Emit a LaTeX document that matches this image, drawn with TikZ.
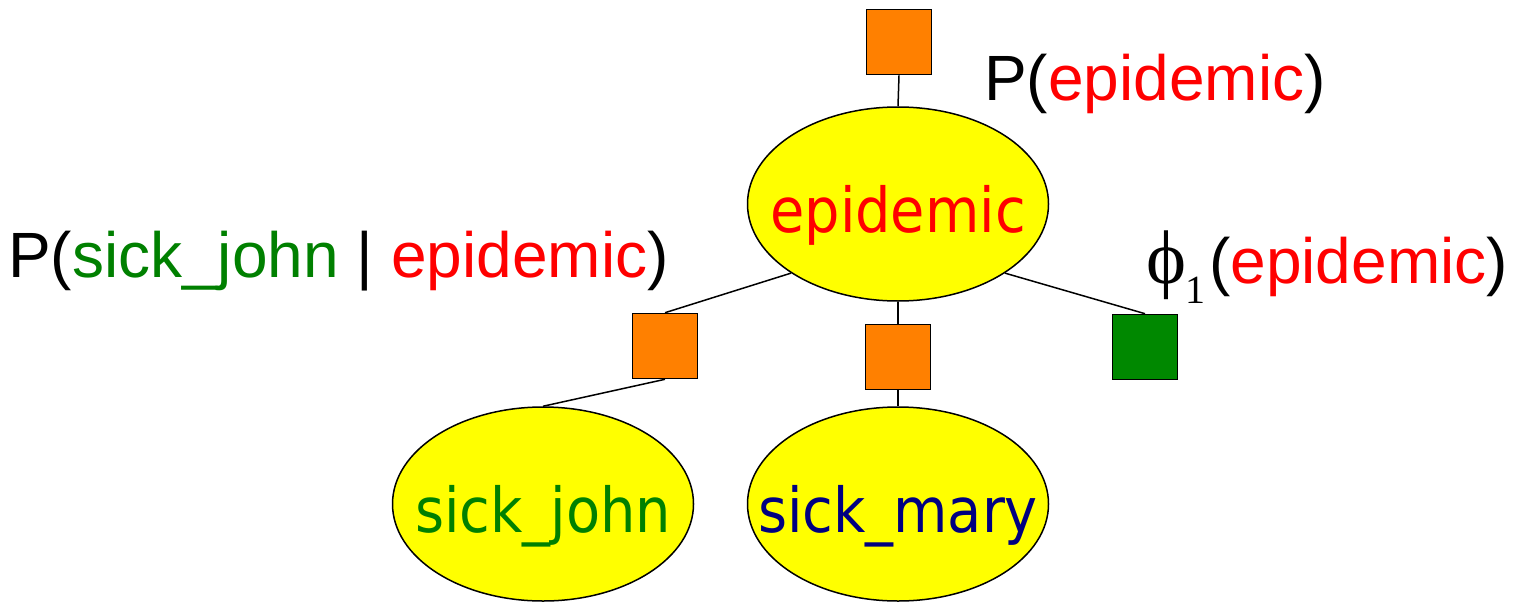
\documentclass[tikz,border=0pt]{standalone}
\usepackage{fontspec}
\setmainfont{Liberation Sans}
\newfontfamily\greekserif{Liberation Serif}
\newfontfamily\nodefont{DejaVu Sans Condensed}
\usetikzlibrary{shapes.geometric}
\definecolor{nodeyellow}{RGB}{255,255,0}
\definecolor{factororange}{RGB}{255,128,0}
\definecolor{factorgreen}{RGB}{0,136,0}
\definecolor{txtred}{RGB}{255,0,0}
\definecolor{txtgreen}{RGB}{0,128,0}
\definecolor{txtblue}{RGB}{0,0,128}
% text inside an ellipse takes no room, so the ellipse keeps its set size;
% its baseline sits 28pt below the centre
\newcommand{\inlabel}[1]{\smash{\raisebox{-28pt}{\makebox[0pt]{#1}}}}
\tikzset{
  varnode/.style={ellipse, draw=black, line width=1.5pt, fill=nodeyellow,
    minimum width=301pt, minimum height=194pt, inner sep=0pt,
    font=\nodefont\fontsize{62}{62}\selectfont},
  factor/.style={rectangle, draw=black, line width=1.6pt, fill=factororange,
    minimum size=65pt, inner sep=0pt},
  link/.style={draw=black, line width=1.5pt},
  lbl/.style={anchor=base west, inner sep=0pt, font=\fontsize{64}{64}\selectfont}
}
\begin{document}
\begin{tikzpicture}[x=1pt, y=-1pt]
  \useasboundingbox (0,0) rectangle (1514,602);

  % variable nodes
  \node[varnode] (epi) at (898,204) {\inlabel{\textcolor{txtred}{epidemic}}};
  \node[varnode] (john) at (543,504) {\inlabel{\textcolor{txtgreen}{sick\_john}}};
  \node[varnode] (mary) at (898,504) {\inlabel{\textcolor{txtblue}{sick\_mary}}};

  % factor nodes
  \node[factor] (fprior) at (899,42) {};
  \node[factor] (fjohn) at (665,346) {};
  \node[factor] (fmary) at (898,357) {};
  \node[factor, fill=factorgreen] (fphi) at (1145,347) {};

  % edges
  \draw[link] (fprior.south) -- (epi.north);
  \draw[link] (epi.south west) -- (fjohn.north);
  \draw[link] (fjohn.south) -- (john.north);
  \draw[link] (epi.south) -- (fmary.north);
  \draw[link] (fmary.south) -- (mary.north);
  \draw[link] (epi.south east) -- (fphi.north);

  % factor labels
  \node[lbl] (lprior) at (984,100) {P(\textcolor{txtred}{epidemic})};
  \node[lbl] (ljohn) at (8,277) {P(\textcolor{txtgreen}{sick\_john} | \textcolor{txtred}{epidemic})};
  \node[lbl] (lphi) at (1146,283) {{\greekserif\fontsize{76}{76}\selectfont ϕ\kern-1pt\raisebox{-20pt}{\fontsize{40}{40}\selectfont 1}}\kern4pt(\textcolor{txtred}{epidemic})};
\end{tikzpicture}
\end{document}
